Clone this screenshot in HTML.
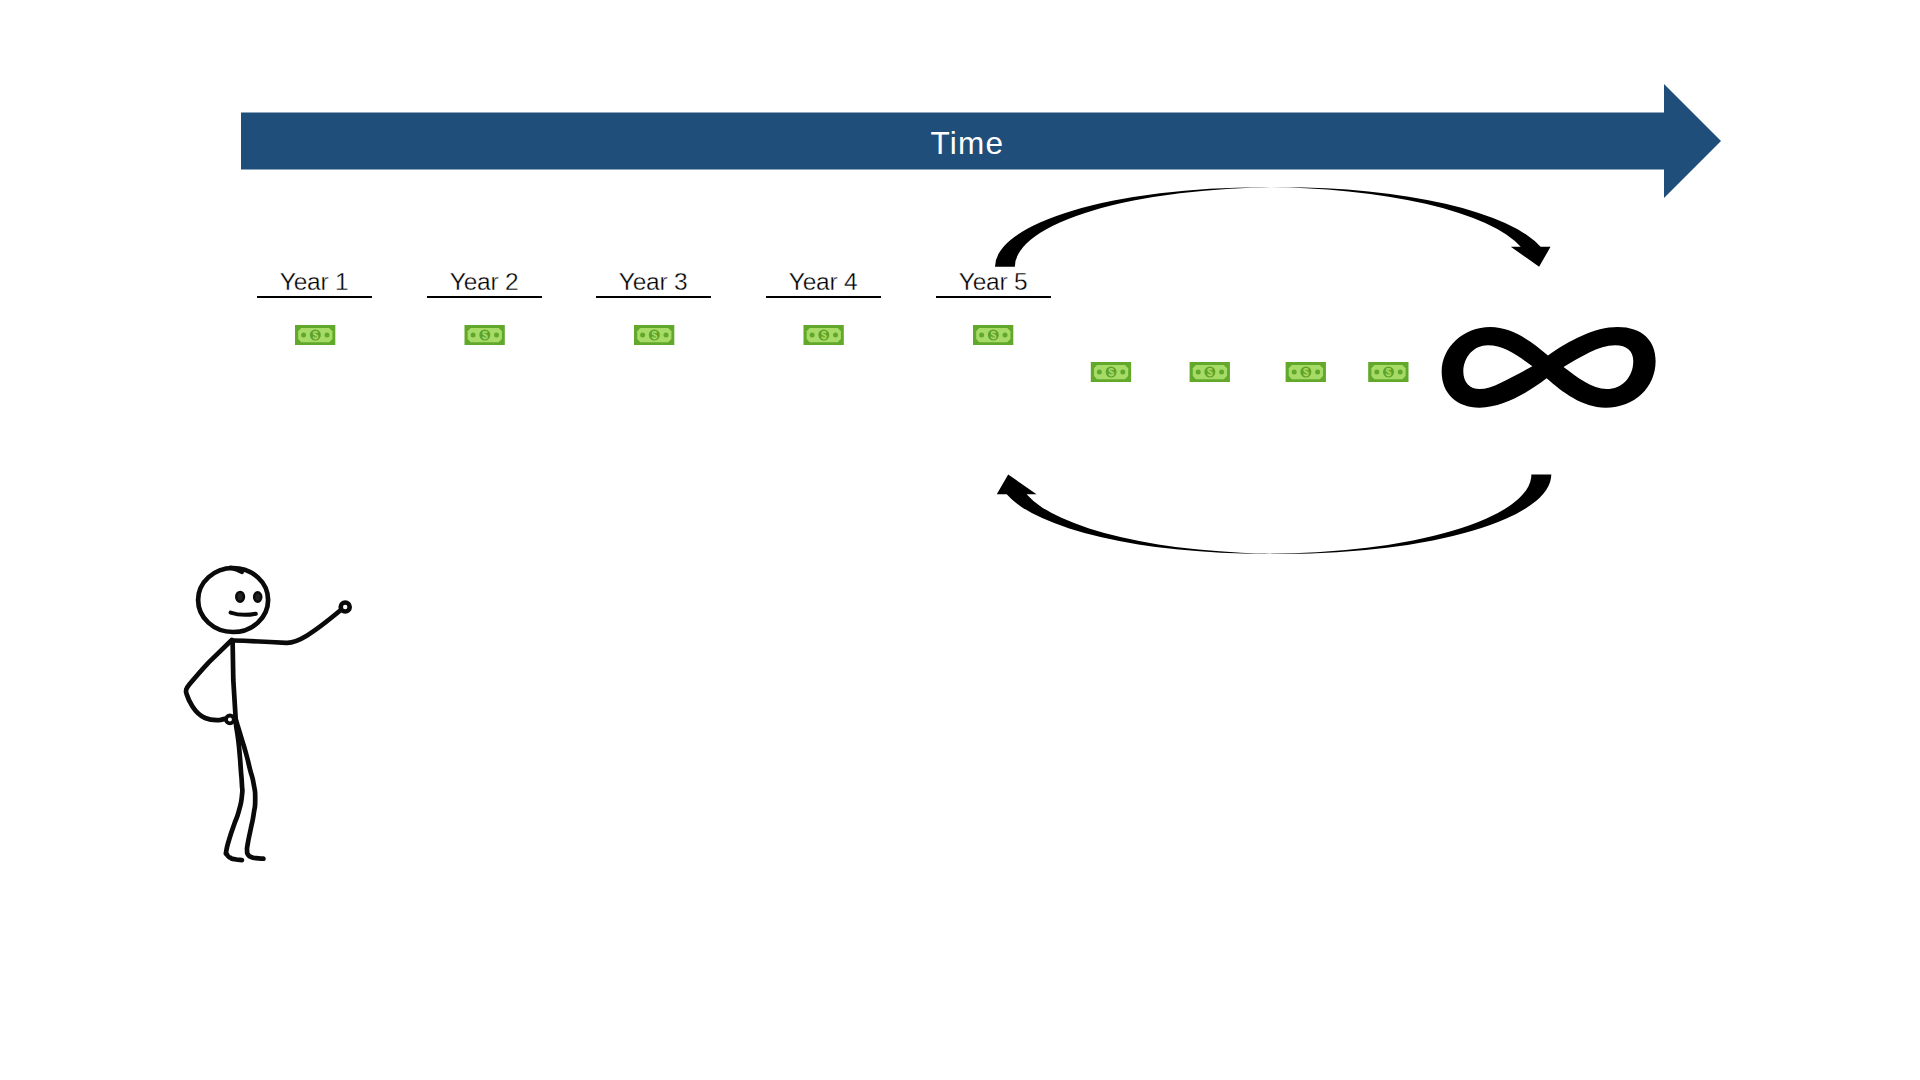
<!DOCTYPE html>
<html lang="en"><head><meta charset="utf-8"><title>Time</title>
<style>
html,body{margin:0;padding:0;background:#fff;}
body{width:1920px;height:1080px;position:relative;overflow:hidden;font-family:"Liberation Sans",sans-serif;}
svg{position:absolute;left:0;top:0;}
.time{position:absolute;left:867.3px;top:114.7px;width:200px;height:57px;line-height:57px;text-align:center;color:#fff;font-size:31.5px;letter-spacing:1.2px;}
.yr{position:absolute;top:268px;width:115.3px;height:28px;line-height:28px;text-align:center;color:#000;font-size:24.5px;-webkit-text-stroke:0.35px #fff;text-indent:-1.2px;letter-spacing:-0.25px;border-bottom:2.2px solid #000;}
</style></head><body>
<svg width="1920" height="1080" viewBox="0 0 1920 1080">

<path d="M241,112.5 H1664 V84 L1721,141 L1664,198 V169.5 H241 Z" fill="#1f4e7b"/>
<g transform="translate(295,325)"><rect x="0" y="0" width="40.3" height="20" fill="#62a82a"/><path d="M6.2,2.9 H34.2 L37.4,6.2 V14 L34.2,17.2 H6.2 L3.2,14 V6.2 Z" fill="#a6db68"/><circle cx="20.3" cy="10" r="5.5" fill="#5fa228"/><circle cx="8.6" cy="10" r="2.5" fill="#62a82a"/><circle cx="32" cy="10" r="2.5" fill="#62a82a"/><text x="20.3" y="13.6" font-family="Liberation Sans, sans-serif" font-size="10.5" font-weight="bold" text-anchor="middle" fill="#a6db68">$</text></g>
<g transform="translate(464.5,325)"><rect x="0" y="0" width="40.3" height="20" fill="#62a82a"/><path d="M6.2,2.9 H34.2 L37.4,6.2 V14 L34.2,17.2 H6.2 L3.2,14 V6.2 Z" fill="#a6db68"/><circle cx="20.3" cy="10" r="5.5" fill="#5fa228"/><circle cx="8.6" cy="10" r="2.5" fill="#62a82a"/><circle cx="32" cy="10" r="2.5" fill="#62a82a"/><text x="20.3" y="13.6" font-family="Liberation Sans, sans-serif" font-size="10.5" font-weight="bold" text-anchor="middle" fill="#a6db68">$</text></g>
<g transform="translate(634,325)"><rect x="0" y="0" width="40.3" height="20" fill="#62a82a"/><path d="M6.2,2.9 H34.2 L37.4,6.2 V14 L34.2,17.2 H6.2 L3.2,14 V6.2 Z" fill="#a6db68"/><circle cx="20.3" cy="10" r="5.5" fill="#5fa228"/><circle cx="8.6" cy="10" r="2.5" fill="#62a82a"/><circle cx="32" cy="10" r="2.5" fill="#62a82a"/><text x="20.3" y="13.6" font-family="Liberation Sans, sans-serif" font-size="10.5" font-weight="bold" text-anchor="middle" fill="#a6db68">$</text></g>
<g transform="translate(803.5,325)"><rect x="0" y="0" width="40.3" height="20" fill="#62a82a"/><path d="M6.2,2.9 H34.2 L37.4,6.2 V14 L34.2,17.2 H6.2 L3.2,14 V6.2 Z" fill="#a6db68"/><circle cx="20.3" cy="10" r="5.5" fill="#5fa228"/><circle cx="8.6" cy="10" r="2.5" fill="#62a82a"/><circle cx="32" cy="10" r="2.5" fill="#62a82a"/><text x="20.3" y="13.6" font-family="Liberation Sans, sans-serif" font-size="10.5" font-weight="bold" text-anchor="middle" fill="#a6db68">$</text></g>
<g transform="translate(973,325)"><rect x="0" y="0" width="40.3" height="20" fill="#62a82a"/><path d="M6.2,2.9 H34.2 L37.4,6.2 V14 L34.2,17.2 H6.2 L3.2,14 V6.2 Z" fill="#a6db68"/><circle cx="20.3" cy="10" r="5.5" fill="#5fa228"/><circle cx="8.6" cy="10" r="2.5" fill="#62a82a"/><circle cx="32" cy="10" r="2.5" fill="#62a82a"/><text x="20.3" y="13.6" font-family="Liberation Sans, sans-serif" font-size="10.5" font-weight="bold" text-anchor="middle" fill="#a6db68">$</text></g>
<g transform="translate(1090.8,362)"><rect x="0" y="0" width="40.3" height="20" fill="#62a82a"/><path d="M6.2,2.9 H34.2 L37.4,6.2 V14 L34.2,17.2 H6.2 L3.2,14 V6.2 Z" fill="#a6db68"/><circle cx="20.3" cy="10" r="5.5" fill="#5fa228"/><circle cx="8.6" cy="10" r="2.5" fill="#62a82a"/><circle cx="32" cy="10" r="2.5" fill="#62a82a"/><text x="20.3" y="13.6" font-family="Liberation Sans, sans-serif" font-size="10.5" font-weight="bold" text-anchor="middle" fill="#a6db68">$</text></g>
<g transform="translate(1189.6,362)"><rect x="0" y="0" width="40.3" height="20" fill="#62a82a"/><path d="M6.2,2.9 H34.2 L37.4,6.2 V14 L34.2,17.2 H6.2 L3.2,14 V6.2 Z" fill="#a6db68"/><circle cx="20.3" cy="10" r="5.5" fill="#5fa228"/><circle cx="8.6" cy="10" r="2.5" fill="#62a82a"/><circle cx="32" cy="10" r="2.5" fill="#62a82a"/><text x="20.3" y="13.6" font-family="Liberation Sans, sans-serif" font-size="10.5" font-weight="bold" text-anchor="middle" fill="#a6db68">$</text></g>
<g transform="translate(1285.6,362)"><rect x="0" y="0" width="40.3" height="20" fill="#62a82a"/><path d="M6.2,2.9 H34.2 L37.4,6.2 V14 L34.2,17.2 H6.2 L3.2,14 V6.2 Z" fill="#a6db68"/><circle cx="20.3" cy="10" r="5.5" fill="#5fa228"/><circle cx="8.6" cy="10" r="2.5" fill="#62a82a"/><circle cx="32" cy="10" r="2.5" fill="#62a82a"/><text x="20.3" y="13.6" font-family="Liberation Sans, sans-serif" font-size="10.5" font-weight="bold" text-anchor="middle" fill="#a6db68">$</text></g>
<g transform="translate(1368.2,362)"><rect x="0" y="0" width="40.3" height="20" fill="#62a82a"/><path d="M6.2,2.9 H34.2 L37.4,6.2 V14 L34.2,17.2 H6.2 L3.2,14 V6.2 Z" fill="#a6db68"/><circle cx="20.3" cy="10" r="5.5" fill="#5fa228"/><circle cx="8.6" cy="10" r="2.5" fill="#62a82a"/><circle cx="32" cy="10" r="2.5" fill="#62a82a"/><text x="20.3" y="13.6" font-family="Liberation Sans, sans-serif" font-size="10.5" font-weight="bold" text-anchor="middle" fill="#a6db68">$</text></g>
<path transform="translate(995,187.2)" d="M0,79.50 A267.09,79.50 0 0 1 267.09,0 L286.97,0 A267.09,79.50 0 0 0 19.88,79.50 Z M267.09,0 A267.09,79.50 0 0 1 525.71,59.62 L515.77,59.62 L544.12,79.50 L555.52,59.62 L545.58,59.62 A267.09,79.50 0 0 0 286.97,0 Z" fill="#000"/>
<path transform="translate(1551.3,553.9) rotate(180)" d="M0,79.50 A266.59,79.50 0 0 1 266.59,0 L286.47,0 A266.59,79.50 0 0 0 19.88,79.50 Z M266.59,0 A266.59,79.50 0 0 1 524.72,59.62 L514.78,59.62 L543.12,79.50 L554.53,59.62 L544.60,59.62 A266.59,79.50 0 0 0 286.47,0 Z" fill="#000"/>
<g role="img" aria-label="infinity ∞"><path transform="translate(1420,300) scale(0.13541)" d="M945,410 C1100,300 1290,200 1460,200 C1640,200 1740,300 1740,450 C1740,640 1590,795 1370,795 C1200,795 1050,680 935,578 C800,680 620,795 440,795 C270,795 160,690 160,530 C160,350 320,200 520,200 C680,200 830,310 945,410 Z M830,490 C720,410 620,335 500,335 C400,335 320,420 320,530 C320,610 370,658 440,658 C540,658 690,560 830,490 Z M1060,495 C1180,425 1320,335 1440,335 C1530,335 1575,380 1575,450 C1575,570 1490,658 1380,658 C1270,658 1160,570 1060,495 Z" fill="#000" fill-rule="evenodd"/></g>
<g fill="none" stroke="#0a0a0a" stroke-width="4.7" stroke-linecap="round" stroke-linejoin="round">
<ellipse cx="233.1" cy="600" rx="35" ry="32"/>
<path d="M230.5,567.8 Q237,569 241.8,571.8" stroke-width="4.6"/>
<ellipse cx="240.1" cy="596.8" rx="3.9" ry="4.9" stroke-width="2.4" fill="#222"/>
<ellipse cx="257.7" cy="597" rx="3.6" ry="4.7" stroke-width="2.4" fill="#222"/>
<path d="M230.6,612.6 Q242.4,616.5 255.8,613.7" stroke-width="4"/>
<path d="M232.2,640.5 C250,641 272,642 286.2,642.8 C297,643.5 312,634 340.5,610.3"/>
<circle cx="345.2" cy="607" r="4.5" stroke-width="4.6"/>
<path d="M231.8,640 L209,662.1 C203,668.5 196,676.5 189.5,684.3 C186,688.5 185.3,690.5 186.6,694 C188,699 190,702.5 192.5,706.5 C196,712 200,715.8 205.1,718 C210,720 216,720.3 220.7,719.9 L224.6,718.9"/>
<circle cx="229.9" cy="719.4" r="3.9" stroke-width="3.8"/>
<path d="M232.6,640.5 L233.3,680 L235.7,719"/>
<path d="M235.7,720.0 C235.8,721.6 235.2,718.2 236.0,724.8 C236.8,731.4 237.0,729.8 238.2,739.7 C239.4,749.6 238.8,744.6 239.7,754.5 C240.6,764.4 240.1,759.4 240.8,769.3 C241.5,779.2 241.5,775.3 241.9,784.2 C242.3,793.1 242.9,787.1 241.9,796.0 C240.9,804.9 241.6,800.9 238.9,810.8 C236.2,820.7 236.9,816.3 233.7,825.7 C230.5,835.1 231.8,830.6 229.3,839.0 C226.8,847.4 227.1,845.7 226.3,850.9 C225.5,856.1 225.8,852.3 227.0,854.5 C228.2,856.7 227.3,856.0 230.0,857.6 C232.7,859.2 231.0,858.5 235.0,859.3 C239.0,860.1 239.6,859.8 241.9,860.1"/>
<path d="M236.2,720.5 C236.6,721.9 235.5,718.4 237.4,724.8 C239.3,731.2 238.9,729.8 241.9,739.7 C244.9,749.6 243.6,744.6 246.3,754.5 C249.0,764.4 247.5,759.4 250.0,769.3 C252.5,779.2 252.0,774.3 253.7,784.2 C255.4,794.1 255.2,789.1 255.2,799.0 C255.2,808.9 255.2,803.9 253.7,813.8 C252.2,823.7 252.8,818.7 250.8,828.6 C248.8,838.5 249.0,836.1 247.8,843.5 C246.6,850.9 247.0,847.2 247.1,850.9 C247.2,854.6 246.8,852.5 248.0,854.5 C249.2,856.5 248.1,855.6 250.8,856.8 C253.5,858.0 251.8,857.6 256.0,858.2 C260.2,858.8 260.9,858.5 263.4,858.7"/>
</g>
</svg>
<div class="time">Time</div>
<div class="yr" style="left:257px">Year 1</div>
<div class="yr" style="left:427px">Year 2</div>
<div class="yr" style="left:596px">Year 3</div>
<div class="yr" style="left:766px">Year 4</div>
<div class="yr" style="left:936px">Year 5</div>
</body></html>
